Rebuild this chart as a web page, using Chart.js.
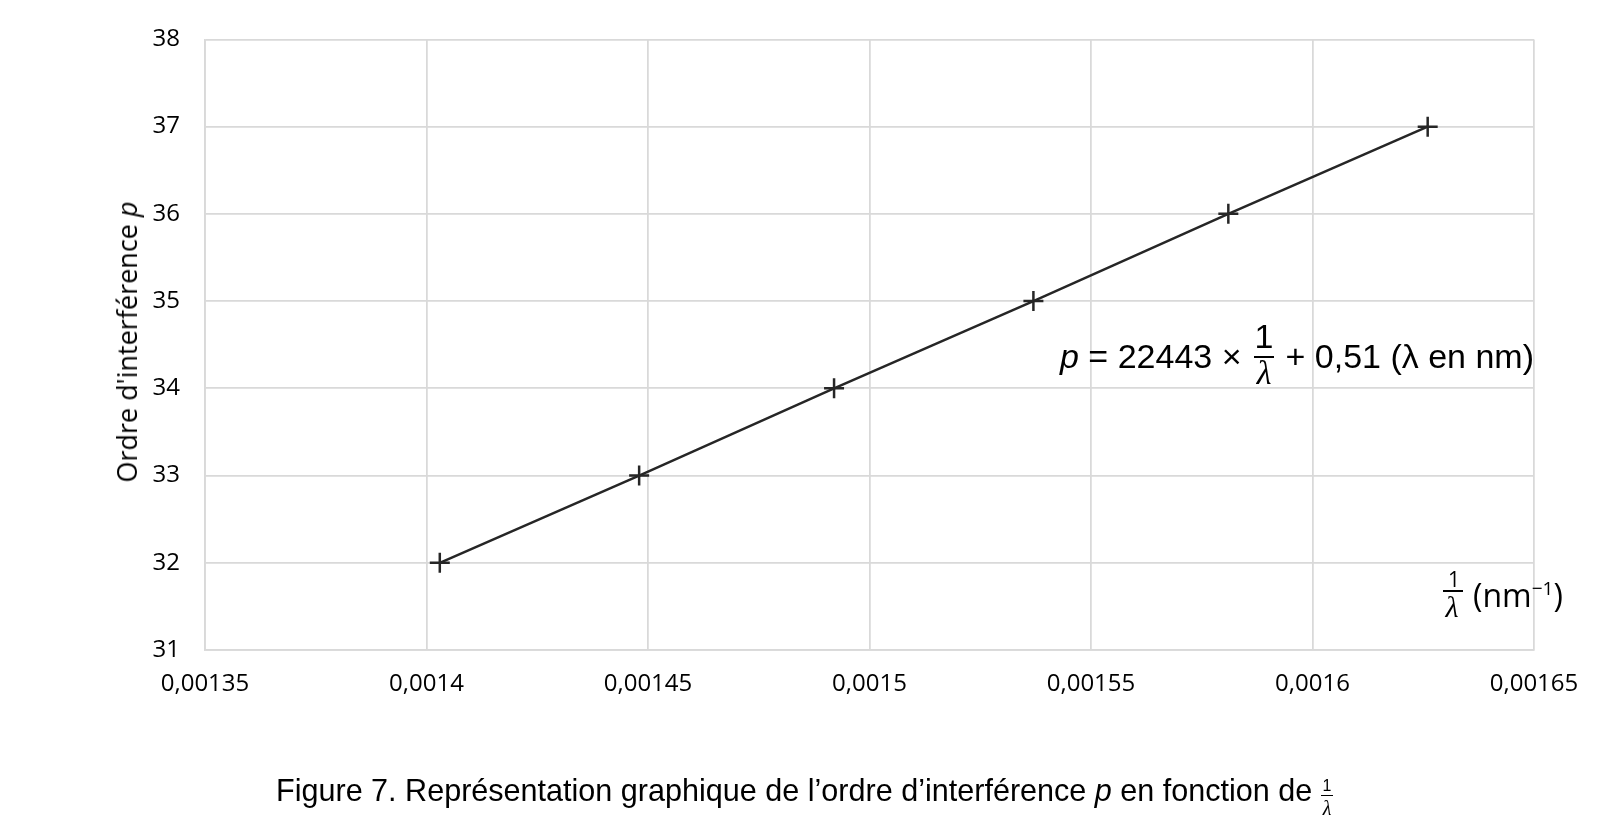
<!DOCTYPE html>
<html lang="fr">
<head>
  <meta charset="UTF-8">
  <title>Ordre d'interférence p en fonction de 1/λ</title>
  <script src="https://cdn.jsdelivr.net/npm/chart.js"></script>
  <style>
    body { margin: 0; background: #fff; }
    #wrap { position: relative; width: 1606px; height: 826px; color: #000; }
    #wrap div { position: absolute; white-space: nowrap; }
    .arial { font-family: "Liberation Sans", Arial, sans-serif; }
    .calib { font-family: "Open Sans", sans-serif; }
    .lam { font-family: "Liberation Serif", serif; font-style: italic; text-align: center; }
    .bar { background: #000; }
  </style>
</head>
<body>
<div id="wrap">
  <canvas id="chart" width="1606" height="826"></canvas>

  <div id="ytitle" class="calib" style="left:127px; top:342px; font-size:27px; line-height:30px; transform:translate(-50%,-50%) rotate(-90deg);">Ordre d'interférence <i>p</i></div>

  <!-- equation of the fit -->
  <div class="arial" style="left:1060px; top:336px; font-size:34px; line-height:40px;"><i>p</i> = 22443 ×</div>
  <div class="arial" style="left:1249px; top:316px; width:30px; text-align:center; font-size:34px; line-height:40px;">1</div>
  <div class="bar" style="left:1254px; top:356px; width:20px; height:2px;"></div>
  <div class="lam" style="left:1249px; top:353px; width:30px; font-size:34px; line-height:40px;">λ</div>
  <div class="arial" style="right:72px; top:336px; font-size:34px; line-height:40px;">+ 0,51 (λ en nm)</div>

  <!-- x axis title -->
  <div class="calib" style="left:1440px; top:568px; width:28px; text-align:center; font-size:21px; line-height:22px;">1</div>
  <div class="bar" style="left:1443px; top:590px; width:20px; height:1.5px;"></div>
  <div class="lam" style="left:1438px; top:592px; width:28px; font-size:30px; line-height:30px;">λ</div>
  <div class="calib" style="left:1473px; top:568px; font-size:32px; line-height:40px;">(nm<sup style="font-size:19px;">−1</sup>)</div>

  <!-- caption -->
  <div class="arial" style="left:276px; top:770px; font-size:32px; line-height:40px; transform:scaleX(0.955); transform-origin:left center;">Figure 7. Représentation graphique de l’ordre d’interférence <i>p</i> en fonction de</div>
  <div class="arial" style="left:1317px; top:777px; width:20px; text-align:center; font-size:16px; line-height:18px;">1</div>
  <div class="bar" style="left:1321px; top:795px; width:12px; height:1.2px;"></div>
  <div class="lam" style="left:1317px; top:797px; width:20px; font-size:20px; line-height:22px;">λ</div>
</div>

<script>
  // data: 1/lambda (nm^-1) and interference order p
  const invLambda = [0.001403, 0.001448, 0.001492, 0.001537, 0.001581, 0.001626];
  const orderP = [32, 33, 34, 35, 36, 37];

  const xMin = 0.00135, xMax = 0.00165, xStep = 0.00005;
  const yMin = 31, yMax = 38, yStep = 1;

  const gridColor = '#d9d9d9';
  const lineColor = '#262626';

  const points = invLambda.map((x, i) => ({ x: x, y: orderP[i] }));

  const ctx = document.getElementById('chart').getContext('2d');
  new Chart(ctx, {
    type: 'scatter',
    data: {
      datasets: [{
        data: points,
        showLine: true,
        borderColor: lineColor,
        borderWidth: 2.5,
        pointStyle: 'cross',
        pointRadius: 10,
        pointBorderWidth: 2.5,
        pointBorderColor: lineColor,
        pointBackgroundColor: lineColor
      }]
    },
    options: {
      responsive: false,
      devicePixelRatio: 1,
      animation: false,
      layout: { padding: { left: 0, top: 39, right: 72, bottom: 0 } },
      plugins: { legend: { display: false }, tooltip: { enabled: false } },
      scales: {
        x: {
          type: 'linear',
          min: xMin,
          max: xMax,
          afterFit: s => { s.height = 176; },
          grid: { color: gridColor, lineWidth: 1.75, drawTicks: false, tickLength: 0 },
          border: { color: gridColor, width: 1.75 },
          ticks: {
            stepSize: xStep,
            padding: 20,
            color: '#000',
            font: { family: 'Open Sans', size: 24 },
            maxRotation: 0,
            callback: v => v.toFixed(5).replace(/0+$/, '').replace('.', ',')
          }
        },
        y: {
          min: yMin,
          max: yMax,
          afterFit: s => { s.width = 205; },
          grid: { color: gridColor, lineWidth: 1.75, drawTicks: false, tickLength: 0 },
          border: { color: gridColor, width: 1.75 },
          ticks: {
            stepSize: yStep,
            padding: 25,
            color: '#000',
            font: { family: 'Open Sans', size: 24 }
          }
        }
      }
    }
  });
</script>
</body>
</html>
